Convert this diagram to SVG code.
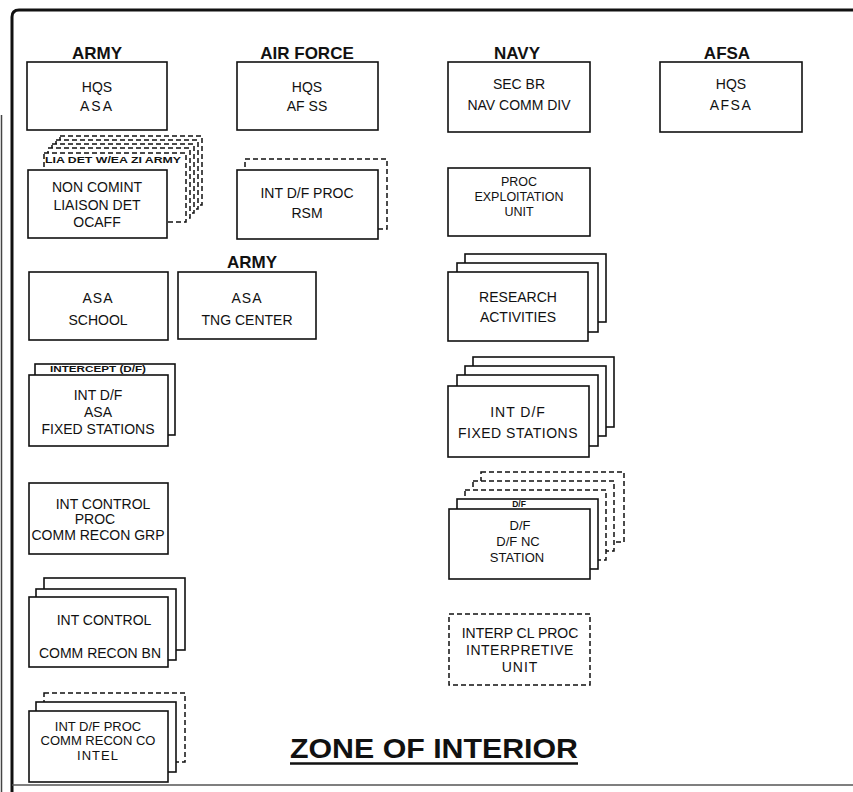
<svg xmlns="http://www.w3.org/2000/svg" width="853" height="792" viewBox="0 0 853 792">
<style>
.box{fill:#fff;stroke:#111;stroke-width:1.6}
.dash{fill:#fff;stroke:#111;stroke-width:1.5;stroke-dasharray:5 3}
.t{font-family:"Liberation Sans",Arial,sans-serif;font-size:14px;text-anchor:middle;fill:#111}
.h{font-family:"Liberation Sans",Arial,sans-serif;font-size:17px;font-weight:bold;text-anchor:middle;fill:#111}
.s{font-family:"Liberation Sans",Arial,sans-serif;font-size:8.5px;font-weight:bold;text-anchor:middle;fill:#111}
.m{font-size:13px}
.n{font-size:12.5px}
</style>
<rect width="853" height="792" fill="#fff"/>
<g id="frame">
<path d="M12,792 L12,17 Q12,10 19,10 L853,10" fill="none" stroke="#111" stroke-width="3"/>
<line x1="12" y1="785" x2="853" y2="785" stroke="#555" stroke-width="1.5"/>
<line x1="1.5" y1="115" x2="1.5" y2="792" stroke="#444" stroke-width="1.5"/>
</g>
<g id="connectors"/>
<g id="army-hdr"><text class="h" x="97" y="59">ARMY</text></g>
<g id="hqs-asa">
<rect class="box" x="27" y="62" width="140" height="68"/>
<text class="t" x="97" y="92">HQS</text>
<text class="t" x="97" y="111" letter-spacing="2">ASA</text>
</g>
<g id="af-hdr"><text class="h" x="307" y="59">AIR FORCE</text></g>
<g id="hqs-afss">
<rect class="box" x="237" y="62" width="141" height="68"/>
<text class="t" x="307" y="92">HQS</text>
<text class="t" x="307" y="111">AF SS</text>
</g>
<g id="navy-hdr"><text class="h" x="517" y="59">NAVY</text></g>
<g id="sec-br">
<rect class="box" x="448" y="62" width="142" height="70"/>
<text class="t" x="519" y="89">SEC BR</text>
<text class="t" x="519" y="110">NAV COMM DIV</text>
</g>
<g id="afsa-hdr"><text class="h" x="727" y="59">AFSA</text></g>
<g id="hqs-afsa">
<rect class="box" x="660" y="62" width="142" height="70"/>
<text class="t" x="731" y="89">HQS</text>
<text class="t" x="731" y="110" letter-spacing="1.5">AFSA</text>
</g>
<g id="non-comint">
<rect class="dash" x="60" y="136" width="142" height="69"/>
<rect class="dash" x="56" y="140" width="142" height="69"/>
<rect class="dash" x="52" y="144" width="142" height="69"/>
<rect class="dash" x="48" y="148" width="142" height="70"/>
<rect class="dash" x="44" y="153" width="142" height="69"/>
<text class="s" x="113" y="163" textLength="136" lengthAdjust="spacingAndGlyphs">LIA DET W/EA ZI ARMY</text>
<rect class="box" x="28" y="170" width="139" height="68"/>
<text class="t" x="97" y="192">NON COMINT</text>
<text class="t" x="97" y="210">LIAISON DET</text>
<text class="t" x="97" y="227">OCAFF</text>
</g>
<g id="int-df-proc-rsm">
<rect class="dash" x="245" y="159" width="142" height="70"/>
<rect class="box" x="237" y="170" width="141" height="69"/>
<text class="t" x="307" y="198">INT D/F PROC</text>
<text class="t" x="307" y="218">RSM</text>
</g>
<g id="proc-exploitation">
<rect class="box" x="448" y="168" width="142" height="68"/>
<text class="t n" x="519" y="186">PROC</text>
<text class="t n" x="519" y="201">EXPLOITATION</text>
<text class="t n" x="519" y="216">UNIT</text>
</g>
<g id="army2-hdr"><text class="h" x="252" y="268">ARMY</text></g>
<g id="asa-school">
<rect class="box" x="29" y="272" width="139" height="68"/>
<text class="t" x="98" y="303" letter-spacing="1">ASA</text>
<text class="t" x="98" y="325">SCHOOL</text>
</g>
<g id="asa-tng-center">
<rect class="box" x="178" y="272" width="138" height="67"/>
<text class="t" x="247" y="303" letter-spacing="1">ASA</text>
<text class="t" x="247" y="325">TNG CENTER</text>
</g>
<g id="research">
<rect class="box" x="465" y="254" width="141" height="68"/>
<rect class="box" x="457" y="263" width="141" height="69"/>
<rect class="box" x="448" y="272" width="140" height="69"/>
<text class="t" x="518" y="302">RESEARCH</text>
<text class="t" x="518" y="322">ACTIVITIES</text>
</g>
<g id="int-df-asa">
<rect class="box" x="35" y="364" width="140" height="71"/>
<text class="s" x="98" y="372" textLength="96" lengthAdjust="spacingAndGlyphs">INTERCEPT (D/F)</text>
<rect class="box" x="29" y="375" width="139" height="71"/>
<text class="t" x="98" y="400">INT D/F</text>
<text class="t" x="98" y="417">ASA</text>
<text class="t" x="98" y="434">FIXED STATIONS</text>
</g>
<g id="int-df-fixed">
<rect class="box" x="473" y="357" width="141" height="70"/>
<rect class="box" x="465" y="366" width="141" height="70"/>
<rect class="box" x="457" y="375" width="141" height="71"/>
<rect class="box" x="448" y="386" width="141" height="71"/>
<text class="t" x="518" y="417" letter-spacing="1">INT D/F</text>
<text class="t" x="518" y="438" letter-spacing="0.5">FIXED STATIONS</text>
</g>
<g id="int-ctrl-grp">
<rect class="box" x="29" y="483" width="139" height="71"/>
<text class="t" x="103" y="509">INT CONTROL</text>
<text class="t" x="95" y="524">PROC</text>
<text class="t" x="98" y="540">COMM RECON GRP</text>
</g>
<g id="df-nc-station">
<rect class="dash" x="481" y="472" width="143" height="70"/>
<rect class="dash" x="473" y="481" width="141" height="70"/>
<rect class="dash" x="465" y="490" width="141" height="70"/>
<rect class="box" x="457" y="499" width="141" height="70"/>
<text class="s" x="519" y="507">D/F</text>
<rect class="box" x="449" y="509" width="141" height="70"/>
<text class="t m" x="520" y="530">D/F</text>
<text class="t m" x="518" y="546">D/F NC</text>
<text class="t m" x="517" y="562">STATION</text>
</g>
<g id="int-ctrl-bn">
<rect class="box" x="44" y="578" width="141" height="72"/>
<rect class="box" x="36" y="589" width="140" height="71"/>
<rect class="box" x="29" y="597" width="139" height="70"/>
<text class="t" x="104" y="625">INT CONTROL</text>
<text class="t" x="100" y="658">COMM RECON BN</text>
</g>
<g id="interp-unit">
<rect class="dash" x="449" y="614" width="141" height="71"/>
<text class="t" x="520" y="638">INTERP CL PROC</text>
<text class="t" x="520" y="655" letter-spacing="0.5">INTERPRETIVE</text>
<text class="t" x="520" y="672" letter-spacing="1">UNIT</text>
</g>
<g id="int-df-co">
<rect class="dash" x="44" y="693" width="141" height="69"/>
<rect class="box" x="36" y="702" width="140" height="70"/>
<rect class="box" x="29" y="711" width="139" height="71"/>
<text class="t m" x="98" y="731">INT D/F PROC</text>
<text class="t m" x="98" y="745">COMM RECON CO</text>
<text class="t m" x="98" y="760" letter-spacing="1">INTEL</text>
</g>
<g id="title">
<text x="434" y="758" font-family="'Liberation Sans',Arial,sans-serif" font-size="28" font-weight="bold" text-anchor="middle" fill="#111" textLength="288" lengthAdjust="spacingAndGlyphs">ZONE OF INTERIOR</text>
<line x1="290" y1="763.5" x2="578" y2="763.5" stroke="#111" stroke-width="2.5"/>
</g>
</svg>
